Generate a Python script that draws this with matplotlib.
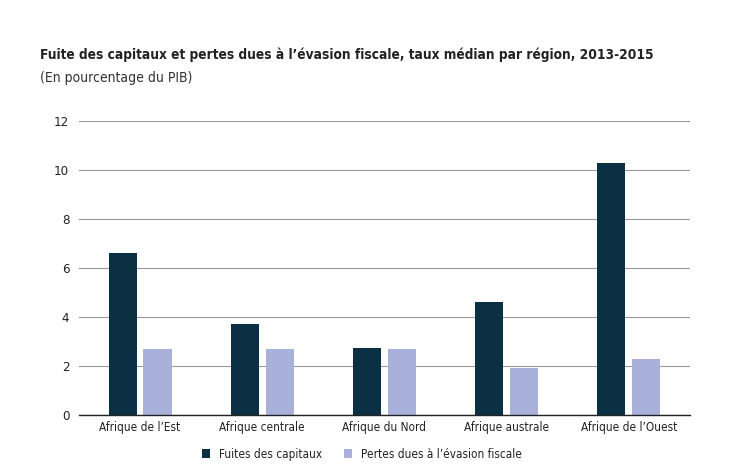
import numpy as np
import matplotlib
matplotlib.use('Agg')
import matplotlib.pyplot as plt

# Données (en pourcentage du PIB)
regions = ["Afrique de l'Est", "Afrique centrale", "Afrique du Nord",
           "Afrique australe", "Afrique de l'Ouest"]
fuites = [6.6, 3.7, 2.75, 4.6, 10.3]
pertes = [2.7, 2.7, 2.7, 1.9, 2.3]

plt.rcParams['font.family'] = ['DejaVu Sans']
plt.rcParams['font.stretch'] = 'condensed'

dark = '#0b3044'
light = '#a9b0d9'

fig = plt.figure(figsize=(7.5, 4.74), dpi=100)
ax = fig.add_axes([0.1053, 0.1245, 0.8147, 0.6202])

x = np.arange(len(regions))
w = 0.23
ax.bar(x - 0.143, fuites, w, color=dark, label='Fuites des capitaux', zorder=3)
ax.bar(x + 0.143, pertes, w, color=light, label="Pertes dues à l\u2019évasion fiscale", zorder=3)

ax.set_xlim(-0.5, 4.5)
ax.set_ylim(0, 12)
ax.set_yticks([0, 2, 4, 6, 8, 10, 12])
ax.set_xticks(x)
ax.set_xticklabels([r.replace("'", "\u2019") for r in regions], fontsize=8.5, color='#222222')
ax.tick_params(axis='y', labelsize=9.5, colors='#222222', length=0, pad=7)
ax.tick_params(axis='x', length=0, pad=4)
ax.grid(axis='y', color='#9a9a9a', linewidth=0.8, zorder=0)
for s in ['top', 'right', 'left']:
    ax.spines[s].set_visible(False)
ax.spines['bottom'].set_color('#222222')
ax.spines['bottom'].set_linewidth(1.0)
ax.spines['bottom'].set_zorder(4)

fig.text(0.053, 0.885, "Fuite des capitaux et pertes dues à l\u2019évasion fiscale, taux médian par région, 2013-2015",
         fontsize=9.8, fontweight='bold', color='#222222', ha='left', va='center')
fig.text(0.053, 0.835, "(En pourcentage du PIB)", fontsize=10, color='#333333', ha='left', va='center')

ax.legend(loc='upper center', bbox_to_anchor=(0.463, -0.075), ncol=2, frameon=False,
          fontsize=8.5, handlelength=0.7, handleheight=0.7, columnspacing=1.8,
          handletextpad=0.8, labelcolor='#222222')

fig.savefig('out.png', dpi=100, facecolor='white')
